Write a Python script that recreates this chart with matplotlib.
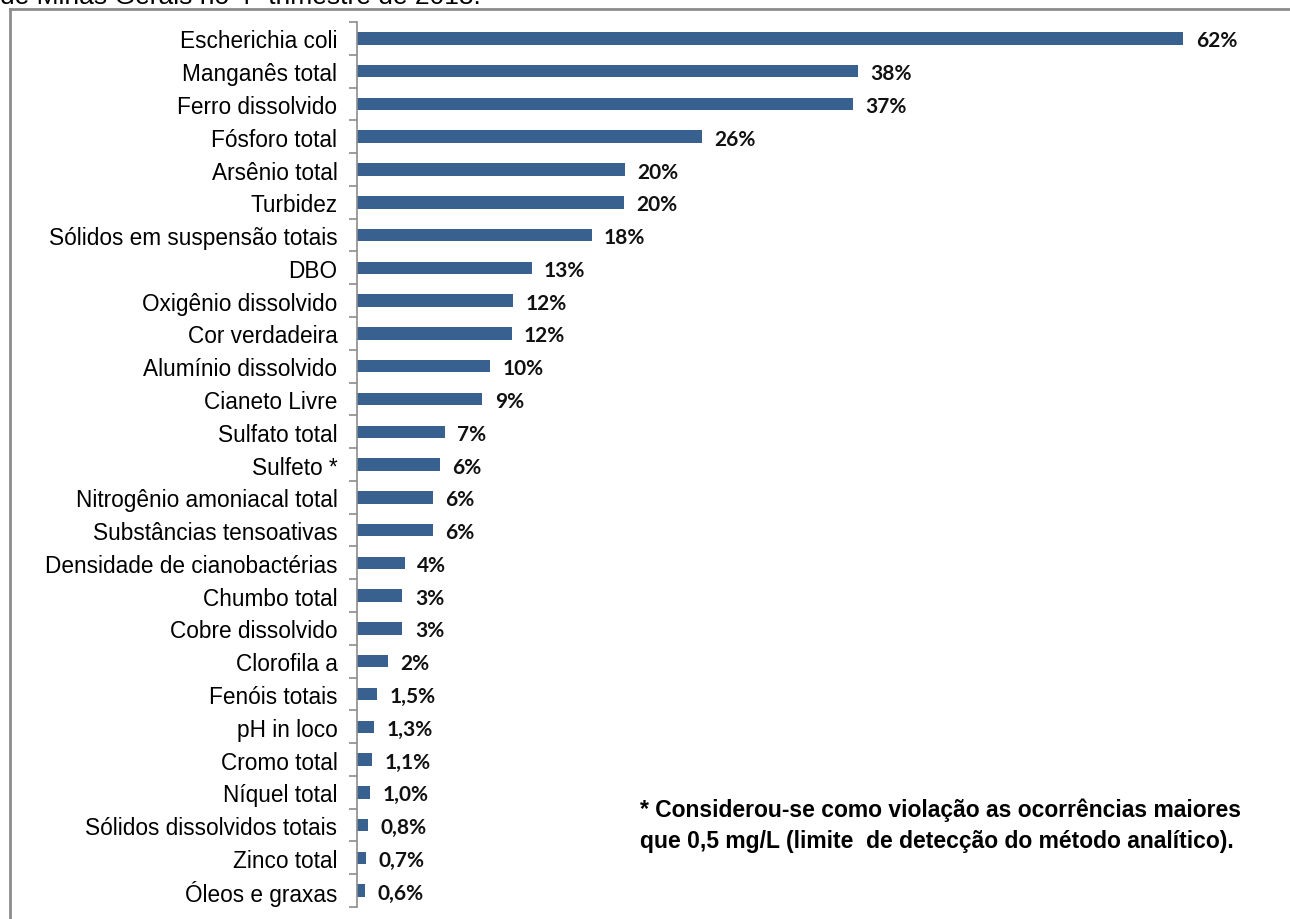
import matplotlib.pyplot as plt
from matplotlib.lines import Line2D

parametros = [
    "Escherichia coli", "Manganês total", "Ferro dissolvido", "Fósforo total",
    "Arsênio total", "Turbidez", "Sólidos em suspensão totais", "DBO",
    "Oxigênio dissolvido", "Cor verdadeira", "Alumínio dissolvido",
    "Cianeto Livre", "Sulfato total", "Sulfeto *", "Nitrogênio amoniacal total",
    "Substâncias tensoativas", "Densidade de cianobactérias", "Chumbo total",
    "Cobre dissolvido", "Clorofila a", "Fenóis totais", "pH in loco",
    "Cromo total", "Níquel total", "Sólidos dissolvidos totais", "Zinco total",
    "Óleos e graxas",
]
violacoes = [
    62.0, 37.6, 37.2, 25.9, 20.1, 20.0, 17.6, 13.1, 11.7, 11.6, 10.0, 9.4,
    6.6, 6.2, 5.7, 5.7, 3.6, 3.4, 3.4, 2.3, 1.5, 1.3, 1.1, 1.0, 0.8, 0.7, 0.6,
]
nota = ("* Considerou-se como violação as ocorrências maiores\n"
        "que 0,5 mg/L (limite  de detecção do método analítico).")


def rotulo(v):
    if v >= 2:
        return f"{v:.0f}%"
    return f"{v:.1f}%".replace(".", ",")


fig = plt.figure(figsize=(12.9, 9.2), dpi=100)
ax = fig.add_axes([0.2767, 0.013, 0.7233, 0.962])

y = list(range(len(parametros)))
ax.barh(y, violacoes, height=0.38, color="#38618F")
ax.set_ylim(len(parametros) - 0.5, -0.5)
ax.set_xlim(0, 70)

for yi, v in zip(y, violacoes):
    ax.annotate(rotulo(v), (v, yi), xytext=(9, -1.5), textcoords="offset points",
                va="center", ha="left", fontsize=15, fontweight="bold",
                family="Lato", color="#111111")

ax.set_yticks(y)
ax.set_yticklabels(parametros, family="Liberation Sans", fontsize=16.3)
ax.tick_params(axis="y", which="major", length=0, pad=14)
ax.set_yticks([i - 0.5 for i in range(len(parametros) + 1)], minor=True)
ax.tick_params(axis="y", which="minor", length=6, width=1.2, color="#8c8c8c")
ax.set_xticks([])
for s in ["top", "right", "bottom"]:
    ax.spines[s].set_visible(False)
ax.spines["left"].set_color("#8c8c8c")
ax.spines["left"].set_linewidth(1.2)

fig.text(640 / 1290, 1 - 848 / 920, nota, family="Liberation Sans",
         fontsize=16.5, fontweight="bold", va="baseline", linespacing=1.45)

# moldura da figura (recortada)
fig.add_artist(Line2D([10 / 1290, 1], [1 - 10 / 920] * 2,
                      transform=fig.transFigure, color="#8c8c8c", lw=2))
fig.add_artist(Line2D([10 / 1290] * 2, [0, 1 - 10 / 920],
                      transform=fig.transFigure, color="#8c8c8c", lw=2))
fig.text(0, 1 - 4 / 920, "de Minas Gerais no 4º trimestre de 2018.",
         family="Liberation Sans", fontsize=19, va="baseline")

fig.savefig("out.png", dpi=100)
